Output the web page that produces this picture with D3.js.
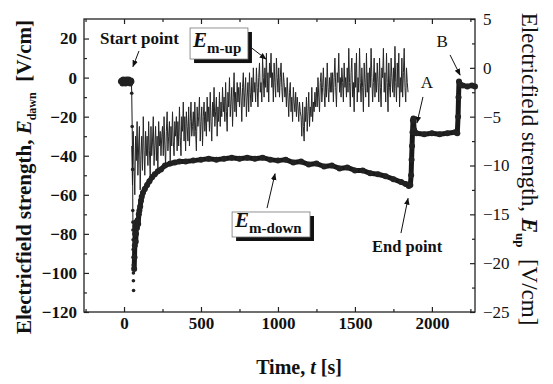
<!DOCTYPE html>
<html>
<head>
<meta charset="utf-8">
<script src="https://cdn.jsdelivr.net/npm/d3@7"></script>
<style>
  body { margin: 0; background: #fff; }
  svg { display: block; }
</style>
</head>
<body>
<figure id="chart" style="margin:0"></figure>
<script>
// ---- data ----
// E_m-down (left axis, V/cm): [time s, value]
const downSeries = [
  [-20, -2], [-15, -1.5], [-10, -3], [-5, -1], [0, -2.5], [5, -1.5], [10, -3], [15, -1],
  [20, -2], [25, -2.5], [30, -1], [35, -2], [40, -3], [45, -1.5], [48, -2],
  [50, -8], [53, -25], [56, -47], [57, -68], [58, -74], [58, -78], [59, -83], [59, -88],
  [60, -92], [60, -96], [61, -100], [61, -104], [62, -109],
  [66, -98], [68, -92], [70, -86], [72, -80], [74, -76], [76, -84], [78, -80], [80, -74],
  [84, -77], [88, -73], [92, -75], [96, -70], [100, -68], [105, -66], [110, -63],
  [115, -61], [123, -59], [135, -57], [150, -55], [165, -53], [182, -51], [200, -49.5],
  [220, -48], [240, -47], [266, -45], [300, -44], [330, -43.5], [360, -43], [400, -43],
  [450, -42.5], [500, -42], [550, -41.5], [600, -42], [650, -41.5], [700, -41], [750, -41.5],
  [800, -41], [850, -41.5], [900, -41], [950, -42], [1000, -42.5], [1050, -42], [1100, -43.5],
  [1150, -43], [1200, -44.5], [1250, -44], [1300, -45.5], [1350, -45], [1400, -46.5],
  [1450, -46], [1500, -47.5], [1550, -47.5], [1600, -49], [1650, -49.5], [1700, -50.5],
  [1750, -52], [1800, -53.5], [1830, -54.5], [1850, -55.5], [1860, -55], [1865, -50],
  [1868, -42], [1871, -35], [1874, -28], [1877, -22], [1880, -21], [1885, -27],
  [1900, -28.5], [1950, -29], [2000, -28.5], [2050, -29], [2100, -28.5], [2150, -28],
  [2165, -28.5], [2170, -20], [2173, -10], [2176, -2], [2185, -3.5], [2200, -4],
  [2230, -4.5], [2260, -4], [2280, -4.5]
];

// E_m-up (right axis, V/cm), one reading every 5 s from t = 50 s
const upStart = 50;
const upStep = 5;
const upValues = [
  -8, -12, -6.5, -10, -13, -7, -9.5, -5.5, -11, -8, -6, -12.5, -9, -7, -10.5, -5, -8.5, -11, -6.5, -9,
  -7, -10, -5.5, -8.5, -11, -6, -9, -7.5, -5, -10, -8, -6, -9.5, -7, -10.5, -5.5, -8, -6.5, -9, -7,
  -6, -9, -5, -8, -10, -6.5, -4.5, -8.5, -7, -5.5, -9.5, -6, -8, -4.5, -7.5, -9, -5.5, -7, -5, -8.5,
  -5.5, -8, -4, -7, -9, -5, -6.5, -3.5, -7.5, -5, -8.5, -4.5, -6, -7.5, -4, -8, -5.5, -3.5, -7, -6,
  -4.5, -7, -3.5, -6.5, -8.5, -4, -6, -5, -3, -7.5, -5.5, -4, -8, -5, -3.5, -6.5, -4.5, -7, -3, -5.5,
  -4, -6.5, -2.5, -5.5, -7.5, -3.5, -5, -2, -6, -4.5, -3, -7, -4, -5.5, -2.5, -6, -3.5, -5, -2, -4.5,
  -3, -5.5, -1.5, -4.5, -6.5, -2.5, -4, -1, -5, -3.5, -2, -6, -3, -0.5, -4.5, -2.5, -5, -1.5, -3.5, -2,
  -4, -1.5, -3, -5.5, -2, -0.5, -4, -2.5, -1, -5, -3, -1.5, -4.5, -0.5, -2.5, -4, -1, -3.5, 0, -2.5,
  -1.5, -3.5, 0, -2, -4, -1, 0.5, -2.5, -1.5, -3.5, 1, -1, -3, 0, -2, 1.5, -2.5, -0.5, -3.5, 0.5,
  -1, 1.5, -2, -0.5, -3.5, 0.5, -1.5, -3, 1, -1, -2.5, 0, -3, -1, 0.5, -2, -3.5, -0.5, -1.5, -3,
  -2, -4, -1, -3, -5, -2.5, -1.5, -4.5, -3, -5.5, -2, -3.5, -4.5, -2.5, -5, -3, -4, -5.5, -3.5, -4.5,
  -5, -7, -3.5, -6, -7.5, -4, -5.5, -3, -6.5, -4.5, -2.5, -6, -4, -5, -2, -5.5, -3.5, -4.5, -2.5, -4,
  -2, -4, -1, -3, -4.5, -1.5, -0.5, -3.5, -2, 0, -2.5, -4, -1, -3, 0.5, -2, -3.5, -1, -2.5, -0.5,
  -2.5, -0.5, -3.5, -1, 1, -2, -4, -0.5, -1.5, 1.5, -2.5, -1, -3, 0, -1.5, -3.5, 0.5, -2, -1, -3,
  0, -2.5, 2, -1.5, -4, -0.5, 1, -3, -1.5, -4.5, 0.5, -2, 1.5, -3.5, -1, -2.5, 2, -1.5, -3.5, 0,
  -2, -4.5, 0.5, -1.5, -3, 1.5, -2.5, -0.5, -4, 0, -2, 2, -1, -3.5, -1.5, 1, -3, -0.5, -2.5, 0.5,
  -1.5, -3.5, 1, -2, -4, 0, -1, 2, -2.5, -0.5, -3.5, 1.5, -1.5, -4.5, 0.5, -2, -3, 1, -1, -2.5,
  0, -3, 2.2, -1.5, -3.5, 0.5, -2, 1.5, -4, -1, -2.5, 1, -3, -0.5, 2, -2, -3.5, 0, -1.5, -2.5
];

// ticks
const xTicks = [0, 500, 1000, 1500, 2000];
const xMinor = [-250, 250, 750, 1250, 1750, 2250];
const leftTicks = [-120, -100, -80, -60, -40, -20, 0, 20];
const leftMinor = [-110, -90, -70, -50, -30, -10, 10];
const rightTicks = [-25, -20, -15, -10, -5, 0, 5];
const rightMinor = [-22.5, -17.5, -12.5, -7.5, -2.5, 2.5];

// annotations, in (time, left-axis value)
const notes = [
  { text: 'Start point', t: -156, v: 17.2, bold: true, size: 17, anchor: 'start' },
  { text: 'End point', t: 1611, v: -89.3, bold: true, size: 16.5, anchor: 'start' },
  { text: 'A', t: 1968, v: -5.3, bold: false, size: 17, anchor: 'middle' },
  { text: 'B', t: 2066, v: 15.7, bold: false, size: 17, anchor: 'middle' }
];
const arrows = [
  [[97, 13.6], [58, 5.6]],
  [[812, 16.2], [922, 9.5]],
  [[929, -66.8], [981, -49.2]],
  [[1799, -79.6], [1845, -61.8]],
  [[1942, -9.9], [1903, -23.2]],
  [[2118, 11.6], [2183, 1.3]]
];
const boxes = [
  { sub: 'm-up', t0: 429, t1: 805, v0: 25.4, v1: 9.5 },
  { sub: 'm-down', t0: 702, t1: 1208, v0: -68.8, v1: -81.6 }
];

// ---- drawing ----
const width = 553, height = 384;
const serif = '"Liberation Serif", "Times New Roman", serif';

const svg = d3.select('#chart').append('svg')
  .attr('width', width)
  .attr('height', height)
  .attr('font-family', serif);

const x = d3.scaleLinear().domain([-260, 2280]).range([84, 475]);
const yL = d3.scaleLinear().domain([-120, 30]).range([312, 19]);
const yR = d3.scaleLinear().domain([-25, 5]).range([312, 19]);

svg.append('defs').append('marker')
  .attr('id', 'head')
  .attr('viewBox', '0 0 10 10')
  .attr('refX', 9).attr('refY', 5)
  .attr('markerWidth', 7).attr('markerHeight', 7)
  .attr('orient', 'auto')
  .append('path')
  .attr('d', 'M0,1 L10,5 L0,9 Z')
  .attr('fill', '#111');

// E_m-up noisy trace
const upData = upValues.map((v, i) => [upStart + i * upStep, v]);
svg.append('path')
  .datum(upData)
  .attr('fill', 'none')
  .attr('stroke', '#262626')
  .attr('stroke-width', 1)
  .attr('d', d3.line().x(d => x(d[0])).y(d => yR(d[1])));

// E_m-down thick marker trace
const downLine = d3.line().x(d => x(d[0])).y(d => yL(d[1]));
[downSeries.filter(d => d[0] < 50), downSeries.filter(d => d[0] > 64)].forEach(seg => {
  svg.append('path')
    .datum(seg)
    .attr('fill', 'none')
    .attr('stroke', '#1a1a1a')
    .attr('stroke-width', 5)
    .attr('stroke-linejoin', 'round')
    .attr('d', downLine);
});
svg.append('path')
  .datum(downSeries.filter(d => d[0] >= 45 && d[0] <= 58))
  .attr('fill', 'none')
  .attr('stroke', '#1a1a1a')
  .attr('stroke-width', 1)
  .attr('d', downLine);
svg.append('g')
  .selectAll('circle')
  .data(downSeries)
  .join('circle')
  .attr('cx', d => x(d[0]))
  .attr('cy', d => yL(d[1]))
  .attr('r', d => (d[0] >= 50 && d[0] <= 62) ? 1.8 : 3)
  .attr('fill', '#222');

// frame and axes (ticks pointing inward)
const plotBottom = yL.range()[0], plotTop = yL.range()[1];
const plotLeft = x.range()[0], plotRight = x.range()[1];

svg.append('rect')
  .attr('x', plotLeft).attr('y', plotTop)
  .attr('width', plotRight - plotLeft)
  .attr('height', plotBottom - plotTop)
  .attr('fill', 'none')
  .attr('stroke', '#222')
  .attr('stroke-width', 1.3);

function styleAxis(g, weight) {
  g.select('.domain').remove();
  g.selectAll('.tick line').attr('stroke', '#222').attr('stroke-width', 1.2);
  g.selectAll('.tick text')
    .attr('font-family', serif)
    .attr('font-size', 17)
    .attr('font-weight', weight)
    .attr('fill', '#111');
}

svg.append('g').attr('transform', `translate(0,${plotBottom})`)
  .call(d3.axisBottom(x).tickValues(xTicks).tickSize(-5).tickPadding(5).tickFormat(d3.format('d')))
  .call(g => styleAxis(g, 'bold'));
svg.append('g').attr('transform', `translate(0,${plotBottom})`)
  .call(d3.axisBottom(x).tickValues(xMinor).tickSize(-3).tickFormat(''))
  .call(g => styleAxis(g, 'bold'));
svg.append('g').attr('transform', `translate(0,${plotTop})`)
  .call(d3.axisTop(x).tickValues(xTicks).tickSize(-5).tickFormat(''))
  .call(g => styleAxis(g, 'bold'));
svg.append('g').attr('transform', `translate(0,${plotTop})`)
  .call(d3.axisTop(x).tickValues(xMinor).tickSize(-3).tickFormat(''))
  .call(g => styleAxis(g, 'bold'));

svg.append('g').attr('transform', `translate(${plotLeft},0)`)
  .call(d3.axisLeft(yL).tickValues(leftTicks).tickSize(-5).tickPadding(7).tickFormat(d3.format('d')))
  .call(g => styleAxis(g, 'bold'));
svg.append('g').attr('transform', `translate(${plotLeft},0)`)
  .call(d3.axisLeft(yL).tickValues(leftMinor).tickSize(-3).tickFormat(''))
  .call(g => styleAxis(g, 'bold'));

svg.append('g').attr('transform', `translate(${plotRight},0)`)
  .call(d3.axisRight(yR).tickValues(rightTicks).tickSize(-5).tickPadding(8).tickFormat(d3.format('d')))
  .call(g => styleAxis(g, 'normal'));
svg.append('g').attr('transform', `translate(${plotRight},0)`)
  .call(d3.axisRight(yR).tickValues(rightMinor).tickSize(-3).tickFormat(''))
  .call(g => styleAxis(g, 'normal'));

// axis titles
const xt = svg.append('text')
  .attr('x', 299).attr('y', 374)
  .attr('text-anchor', 'middle')
  .attr('font-size', 20).attr('font-weight', 'bold').attr('fill', '#111');
xt.append('tspan').text('Time, ');
xt.append('tspan').attr('font-style', 'italic').text('t');
xt.append('tspan').text(' [s]');

const lt = svg.append('text')
  .attr('transform', 'translate(31,177) rotate(-90)')
  .attr('text-anchor', 'middle')
  .attr('font-size', 21).attr('font-weight', 'bold').attr('fill', '#111');
lt.append('tspan').text('Electricfield strength, ');
lt.append('tspan').attr('font-style', 'italic').text('E');
lt.append('tspan').attr('font-size', 12).attr('dy', 5).text('dawn');
lt.append('tspan').attr('dy', -5).text('\u00a0\u00a0[V/cm]');

const rt = svg.append('text')
  .attr('transform', 'translate(522,169) rotate(90)')
  .attr('text-anchor', 'middle')
  .attr('font-size', 23).attr('fill', '#111');
rt.append('tspan').text('Electricfield strength, ');
rt.append('tspan').attr('font-style', 'italic').attr('font-weight', 'bold').text('E');
rt.append('tspan').attr('font-size', 13).attr('font-weight', 'bold').attr('dy', 6).text('up');
rt.append('tspan').attr('dy', -6).text('\u00a0\u00a0[V/cm]');

// labelled boxes with drop shadow
boxes.forEach(b => {
  const bx = x(b.t0), by = yL(b.v0);
  const bw = x(b.t1) - x(b.t0), bh = yL(b.v1) - yL(b.v0);
  svg.append('rect')
    .attr('x', bx + 4).attr('y', by + 4).attr('width', bw).attr('height', bh)
    .attr('fill', '#111');
  svg.append('rect')
    .attr('x', bx).attr('y', by).attr('width', bw).attr('height', bh)
    .attr('fill', '#fff').attr('stroke', '#777').attr('stroke-width', 0.8);
  const t = svg.append('text')
    .attr('x', bx + 3).attr('y', by + bh * 0.62)
    .attr('font-weight', 'bold').attr('fill', '#111');
  t.append('tspan').attr('font-style', 'italic').attr('font-size', 21).text('E');
  t.append('tspan').attr('font-size', 15).attr('dy', 6).text(b.sub);
});

// arrows and point labels
svg.append('g')
  .selectAll('line')
  .data(arrows)
  .join('line')
  .attr('x1', d => x(d[0][0])).attr('y1', d => yL(d[0][1]))
  .attr('x2', d => x(d[1][0])).attr('y2', d => yL(d[1][1]))
  .attr('stroke', '#111').attr('stroke-width', 1)
  .attr('marker-end', 'url(#head)');

svg.append('g')
  .selectAll('text')
  .data(notes)
  .join('text')
  .attr('x', d => x(d.t)).attr('y', d => yL(d.v))
  .attr('text-anchor', d => d.anchor)
  .attr('font-size', d => d.size)
  .attr('font-weight', d => d.bold ? 'bold' : 'normal')
  .attr('fill', '#111')
  .text(d => d.text);
</script>
</body>
</html>
